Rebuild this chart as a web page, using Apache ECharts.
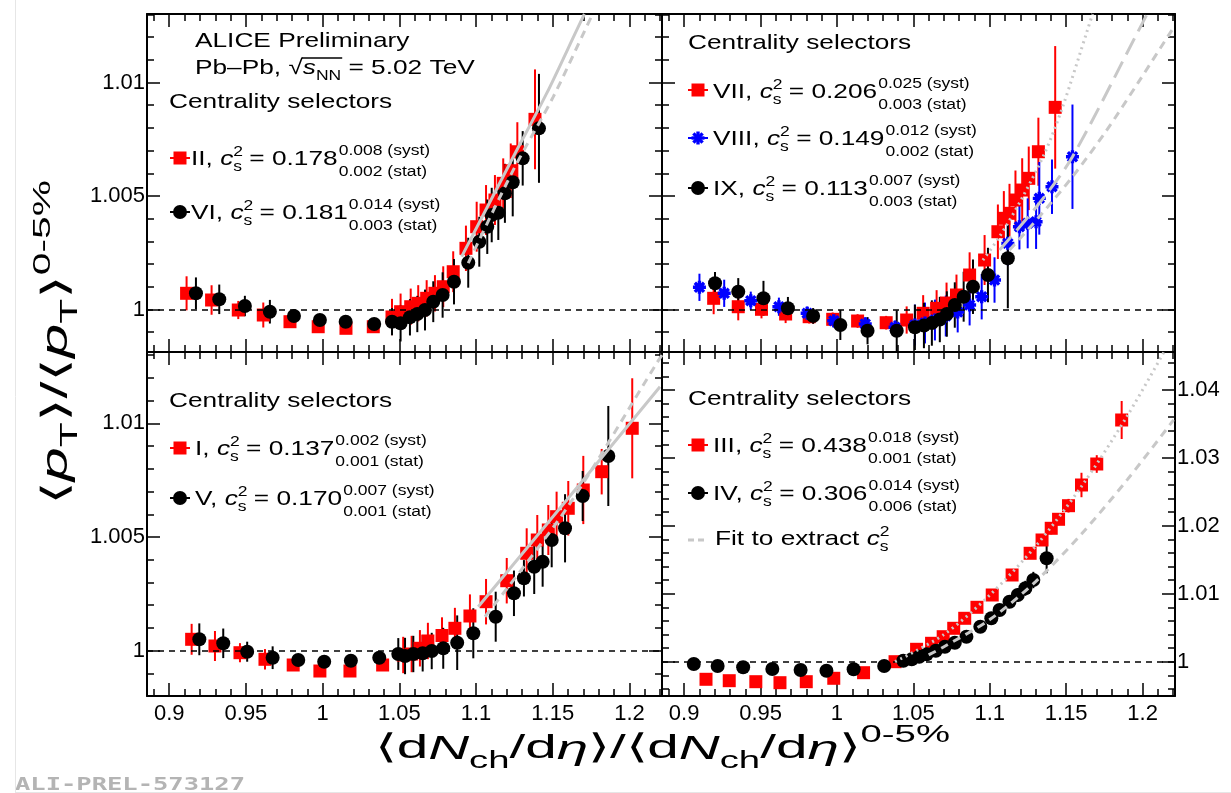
<!DOCTYPE html>
<html><head><meta charset="utf-8">
<script src="https://cdn.jsdelivr.net/npm/echarts@6/dist/echarts.min.js"></script>
<style>html,body{margin:0;padding:0;background:#fff;}#c{width:1231px;height:793px;}</style>
</head><body><div id="c"></div>
<script>
// ---------------- DATA ----------------
const xMajor = [0.9, 0.95, 1, 1.05, 1.1, 1.15, 1.2];
const xMajorLabels = ['0.9', '0.95', '1', '1.05', '1.1', '1.15', '1.2'];
const xMinor = [0.89,0.9,0.91,0.92,0.93,0.94,0.95,0.96,0.97,0.98,0.99,1,1.01,1.02,1.03,1.04,1.05,1.06,1.07,1.08,1.09,1.1,1.11,1.12,1.13,1.14,1.15,1.16,1.17,1.18,1.19,1.2,1.21,1.22];
const yMajorSmall = [1, 1.005, 1.01];
const yMajorSmallLabels = ['1', '1.005', '1.01'];
const yMinorSmall = [0.999,1,1.001,1.002,1.003,1.004,1.005,1.006,1.007,1.008,1.009,1.01,1.011,1.012,1.013];
const yMajorBig = [1, 1.01, 1.02, 1.03, 1.04];
const yMajorBigLabels = ['1', '1.01', '1.02', '1.03', '1.04'];
const yMinorBig = [0.996,0.998,1,1.002,1.004,1.006,1.008,1.01,1.012,1.014,1.016,1.018,1.02,1.022,1.024,1.026,1.028,1.03,1.032,1.034,1.036,1.038,1.04,1.042,1.044];

// Top-left: selector II (red), VI (black)
const tlII_x = [0.9113,0.9276,0.945,0.9613,0.9787,0.9971,1.0152,1.033,1.0452,1.0508,1.0574,1.0623,1.0678,1.0732,1.0786,1.0851,1.0934,1.1004,1.1065,1.1123,1.1177,1.1226,1.1269,1.1384];
const tlII_y = [1.000714,1.000419,0.999978,0.999758,0.999463,0.999242,0.999172,0.999242,0.99967,0.999903,1.000123,1.000273,1.000493,1.000714,1.001004,1.001665,1.002696,1.003648,1.004383,1.004824,1.005559,1.006115,1.006952,1.008379];
const tlII_e = [0.00075,0.00065,0.0004,0.00055,0.0002,0.0002,0.0002,0.0002,0.0008,0.0008,0.0008,0.0008,0.0008,0.0008,0.0009,0.0009,0.001,0.0011,0.0011,0.0011,0.0011,0.0012,0.0013,0.0022];
const tlVI_x = [0.9174,0.9326,0.9493,0.9656,0.9813,0.9982,1.015,1.0336,1.0452,1.0508,1.0569,1.0617,1.0667,1.0721,1.0782,1.0856,1.0949,1.1021,1.1073,1.1102,1.1145,1.1188,1.1239,1.1304,1.141];
const tlVI_y = [1.000714,1.000449,1.000154,0.999903,0.999714,0.999537,0.999463,0.999361,0.999463,0.999392,0.999656,0.999802,0.999978,1.000344,1.000639,1.001225,1.002062,1.002987,1.003648,1.004163,1.004264,1.005119,1.005604,1.006661,1.007982];
const tlVI_e = [0.0007,0.00065,0.00045,0.00052,0.0002,0.0002,0.0002,0.0002,0.0006,0.0008,0.0008,0.0008,0.0009,0.0009,0.001,0.001,0.0011,0.0011,0.0012,0.0012,0.0012,0.0013,0.0015,0.0012,0.0024];
const tlII_fit_x = [1.0906,1.1243,1.146,1.1656,1.1706];
const tlII_fit_y = [1.00233,1.00673,1.00952,1.01231,1.01302];
const tlVI_fit_x = [1.0949,1.1243,1.1503,1.171,1.176];
const tlVI_fit_y = [1.00204,1.00615,1.00937,1.01231,1.01302];

// Top-right: VII (red), VIII (blue), IX (black)
const trVII_x = [0.9193,0.9354,0.9506,0.9664,0.9818,0.9972,1.0135,1.0322,1.0456,1.0564,1.0652,1.0717,1.0782,1.0868,1.0966,1.1053,1.1092,1.1129,1.1168,1.1212,1.1255,1.1318,1.1428];
const trVII_y = [1.000493,1.000123,1.000009,0.999802,0.999683,0.999568,0.999493,0.999419,0.999537,0.999833,1.000053,1.000286,1.000639,1.00152,1.002181,1.003427,1.004018,1.004238,1.004824,1.005264,1.00578,1.006952,1.008907];
const trVII_e = [0.0007,0.0006,0.0004,0.0004,0.0003,0.0003,0.0003,0.0003,0.0006,0.0008,0.0008,0.0009,0.0009,0.001,0.0011,0.0012,0.0012,0.0013,0.0013,0.0014,0.0014,0.0015,0.0027];
const trVIII_x = [0.91,0.9262,0.9436,0.962,0.9805,0.9979,1.0185,1.038,1.051,1.0576,1.0641,1.0712,1.079,1.0868,1.0947,1.1031,1.1118,1.1194,1.1248,1.1303,1.1324,1.1407,1.1541];
const trVIII_y = [1.000978,1.000714,1.000388,1.000123,0.999833,0.999507,0.999361,0.999216,0.999317,0.999405,0.999537,0.999714,0.99989,1.000198,1.000564,1.0013,1.002916,1.003648,1.003797,1.003868,1.004899,1.00541,1.006731];
const trVIII_e = [0.0006,0.0006,0.0004,0.0004,0.0003,0.0003,0.0003,0.0003,0.0009,0.0009,0.0009,0.0009,0.0009,0.0009,0.001,0.001,0.001,0.001,0.0011,0.0012,0.0016,0.0012,0.0023];
const trIX_x = [0.9202,0.9354,0.9519,0.9679,0.9844,1.0022,1.02,1.0391,1.051,1.0569,1.0621,1.0673,1.0719,1.0771,1.0829,1.089,1.0988,1.1118];
const trIX_y = [1.001154,1.000784,1.000493,1.000053,0.999714,0.999317,0.999066,0.999066,0.999216,0.999295,0.999405,0.999559,0.999802,1.000198,1.000564,1.001004,1.00152,1.002256];
const trIX_e = [0.0005,0.0006,0.00077,0.0005,0.00035,0.00066,0.0006,0.0009,0.001,0.001,0.001,0.001,0.001,0.001,0.0011,0.0012,0.0012,0.0022];
const trVII_fit_x = [1.0955,1.1064,1.1216,1.1363,1.1476,1.1639,1.1673];
const trVII_fit_y = [1.00218,1.00321,1.00497,1.00695,1.00891,1.01231,1.01302];
const trVIII_fit_x = [1.1064,1.1324,1.1541,1.1975,1.203];
const trVIII_fit_y = [1.00262,1.00468,1.00673,1.01231,1.01302];
const trIX_fit_x = [1.1129,1.1324,1.1541,1.1758,1.1975,1.2192,1.2203];
const trIX_fit_y = [1.00262,1.00409,1.00585,1.00783,1.01004,1.01231,1.0124];

// Bottom-left: I (red), V (black)
const blI_x = [0.9146,0.9298,0.9461,0.9624,0.9808,0.9982,1.0178,1.0391,1.0525,1.058,1.0634,1.0686,1.0778,1.0862,1.096,1.1065,1.12,1.133,1.1399,1.1471,1.1525,1.1601,1.1699,1.1819,1.2018];
const blI_y = [1.000501,1.000207,0.999912,0.999622,0.999371,0.999107,0.999107,0.999371,0.999811,0.999855,1.000106,1.000427,1.000668,1.000985,1.001526,1.002155,1.003078,1.004283,1.004868,1.005308,1.005893,1.006262,1.007067,1.007872,1.00978];
const blI_e = [0.00068,0.00066,0.00042,0.00045,0.0002,0.0002,0.0002,0.0002,0.0008,0.0008,0.0008,0.0008,0.0008,0.0009,0.00095,0.001,0.001,0.0011,0.0011,0.0011,0.0011,0.0012,0.0015,0.001,0.0022];
const blV_x = [0.9196,0.9352,0.9508,0.9674,0.9841,1.001,1.0184,1.0369,1.0493,1.0537,1.0591,1.0652,1.0711,1.0786,1.0877,1.0982,1.1128,1.1247,1.1312,1.1379,1.1434,1.1493,1.158,1.1695,1.1862];
const blV_y = [1.000501,1.000325,0.999956,0.999692,0.999591,0.999516,0.99956,0.999692,0.999855,0.999767,0.999855,0.999886,0.999987,1.000106,1.000352,1.000765,1.001495,1.002524,1.003184,1.003694,1.003914,1.004868,1.005383,1.006803,1.008562];
const blV_e = [0.0007,0.00065,0.00044,0.0005,0.0002,0.0002,0.0002,0.0002,0.0007,0.0008,0.0008,0.0008,0.0008,0.0009,0.0012,0.0011,0.0011,0.001,0.0008,0.0012,0.0011,0.0012,0.0015,0.0011,0.0022];
const blI_fit_x = [1.1014,1.1591,1.2199];
const blI_fit_y = [1.001935,1.006627,1.01161];
const blV_fit_x = [1.1058,1.1591,1.2177,1.2212];
const blV_fit_y = [1.001495,1.006262,1.012638,1.013];

// Bottom-right: III (red), IV (black)
const brIII_x = [0.9143,0.9295,0.9469,0.9627,0.9799,0.9979,1.0174,1.038,1.0521,1.0619,1.0695,1.0764,1.0836,1.0916,1.1016,1.1146,1.1264,1.1342,1.1402,1.145,1.1515,1.16,1.17,1.1863];
const brIII_y = [0.997409,0.997203,0.997056,0.996909,0.997056,0.997556,0.998381,1.0,1.001825,1.002709,1.00368,1.004917,1.006389,1.008008,1.009819,1.012763,1.015958,1.017916,1.019638,1.020963,1.022965,1.026012,1.029104,1.035581];
const brIII_e = [0.0005,0.0005,0.0005,0.0005,0.0005,0.0005,0.0005,0.0005,0.0006,0.0006,0.0006,0.0006,0.0007,0.0007,0.0008,0.0008,0.0008,0.0008,0.0009,0.0009,0.001,0.0018,0.0013,0.0028];
const brIV_x = [0.9063,0.9219,0.9386,0.9577,0.9762,0.9931,1.0109,1.0309,1.0434,1.0489,1.0538,1.0587,1.0647,1.0706,1.0771,1.0847,1.0938,1.101,1.1064,1.1129,1.1183,1.1233,1.1285,1.1372];
const brIV_y = [0.999661,0.999367,0.999176,0.998925,0.998778,0.998675,0.998881,0.999367,1.000147,1.000353,1.000736,1.001089,1.001619,1.002208,1.002797,1.00368,1.005152,1.006389,1.007611,1.008833,1.009819,1.010805,1.012027,1.015222];
const brIV_e = [0.0004,0.0004,0.0004,0.0004,0.0004,0.0004,0.0004,0.0004,0.0005,0.0005,0.0005,0.0005,0.0005,0.0005,0.0006,0.0006,0.0006,0.0007,0.0008,0.0009,0.001,0.0011,0.0012,0.0022];
const brIII_fit_x = [1.038,1.07,1.10,1.13,1.16,1.19,1.22];
const brIII_fit_y = [1.0,1.004,1.0098,1.017,1.0258,1.0362,1.048];
const brIV_fit_x = [1.06,1.07,1.10,1.13,1.16,1.19,1.2203];
const brIV_fit_y = [1.001,1.0022,1.0062,1.0118,1.0188,1.0268,1.0356];

// ---------------- LAYOUT ----------------
const FONT = '"Liberation Sans", Arial, Helvetica, sans-serif';
const SX = 1.25;
const RED = '#ff0000', BLUE = '#0000ff', BLK = '#000000', GREY = '#c8c8c8';
const XMIN = 0.8855, XMAX = 1.2212;
const grids = [
  {left: 147, top: 14, width: 515, height: 338, ymin: 0.998128, ymax: 1.01302, yMaj: yMajorSmall, yLab: yMajorSmallLabels, yMin: yMinorSmall, xl: false, yl: 'left'},
  {left: 662, top: 14, width: 513, height: 338, ymin: 0.998128, ymax: 1.01302, yMaj: yMajorSmall, yLab: yMajorSmallLabels, yMin: yMinorSmall, xl: false, yl: null},
  {left: 147, top: 352, width: 515, height: 344, ymin: 0.998008, ymax: 1.013135, yMaj: yMajorSmall, yLab: yMajorSmallLabels, yMin: yMinorSmall, xl: true, yl: 'left'},
  {left: 662, top: 352, width: 513, height: 344, ymin: 0.99495, ymax: 1.04559, yMaj: yMajorBig, yLab: yMajorBigLabels, yMin: yMinorBig, xl: true, yl: 'right'}
];

const xAxes = [], yAxes = [], mainX = [], mainY = [];
function lab(vals, labels) {
  return function (v) {
    for (let i = 0; i < vals.length; i++) if (Math.abs(vals[i] - v) < 1e-7) return labels[i];
    return '';
  };
}
grids.forEach((g, gi) => {
  const mk = (pos, ticks, len, line, labels) => ({
    type: 'value', gridIndex: gi, position: pos, min: XMIN, max: XMAX,
    axisLine: {show: line, onZero: false, lineStyle: {color: '#000', width: 2}},
    axisTick: {show: true, inside: true, length: len, customValues: ticks, lineStyle: {color: '#000', width: 1.5}},
    axisLabel: labels ? {show: true, customValues: xMajor, formatter: lab(xMajor, xMajorLabels), color: '#000', fontSize: 22, fontFamily: FONT, margin: 7, hideOverlap: false} : {show: false},
    splitLine: {show: false}
  });
  mainX.push(xAxes.length);
  xAxes.push(mk('bottom', xMajor, 13, true, g.xl));
  xAxes.push(mk('bottom', xMinor, 7, false, false));
  xAxes.push(mk('top', xMajor, 13, true, false));
  xAxes.push(mk('top', xMinor, 7, false, false));
  const mky = (pos, ticks, len, line, labels) => ({
    type: 'value', gridIndex: gi, position: pos, min: g.ymin, max: g.ymax,
    axisLine: {show: line, onZero: false, lineStyle: {color: '#000', width: 2}},
    axisTick: {show: true, inside: true, length: len, customValues: ticks, lineStyle: {color: '#000', width: 1.5}},
    axisLabel: labels ? {show: true, customValues: g.yMaj, formatter: lab(g.yMaj, g.yLab), color: '#000', fontSize: 22, fontFamily: FONT, margin: 2, hideOverlap: false} : {show: false},
    splitLine: {show: false}
  });
  mainY.push(yAxes.length);
  yAxes.push(mky('left', g.yMaj, 13, true, g.yl === 'left'));
  yAxes.push(mky('left', g.yMin, 7, false, false));
  yAxes.push(mky('right', g.yMaj, 13, true, g.yl === 'right'));
  yAxes.push(mky('right', g.yMin, 7, false, false));
});

const series = [];
function zip3(xs, ys, es) { return xs.map((x, i) => [x, ys[i], es[i]]); }
function zip2(xs, ys) { return xs.map((x, i) => [x, ys[i]]); }
const STAR = 'path://M-5,-1.3L5,-1.3L5,1.3L-5,1.3Z M-2.617,-4.455L4.455,2.617L2.617,4.455L-4.455,-2.617Z M4.455,-2.617L-2.617,4.455L-4.455,2.617L2.617,-4.455Z M1.3,-5L1.3,5L-1.3,5L-1.3,-5Z';
function addData(gi, xs, ys, es, color, symbol, size) {
  series.push({
    type: 'custom', xAxisIndex: mainX[gi], yAxisIndex: mainY[gi], data: zip3(xs, ys, es), silent: true,
    encode: {x: 0, y: 1},
    renderItem: function (params, api) {
      const x = api.value(0), y = api.value(1), e = api.value(2);
      const a = api.coord([x, y - e]), b = api.coord([x, y + e]);
      return {type: 'line', shape: {x1: a[0], y1: a[1], x2: b[0], y2: b[1]}, style: {stroke: color, lineWidth: 2}};
    }
  });
  series.push({
    type: 'scatter', xAxisIndex: mainX[gi], yAxisIndex: mainY[gi], data: zip2(xs, ys), symbol: symbol, symbolSize: size,
    itemStyle: {color: color, opacity: 1}, silent: true
  });
}
function addFit(gi, xs, ys, type) {
  series.push({
    type: 'line', xAxisIndex: mainX[gi], yAxisIndex: mainY[gi], data: zip2(xs, ys), showSymbol: false, symbol: 'none',
    smooth: 0.3, z: 5, silent: true, clip: true,
    lineStyle: {color: GREY, width: 3, type: type}
  });
}
function addOne(gi) {
  series.push({
    type: 'line', xAxisIndex: mainX[gi], yAxisIndex: mainY[gi], data: [], silent: true,
    markLine: {silent: true, symbol: 'none', label: {show: false}, lineStyle: {color: '#000', width: 1.5, type: [6, 5]}, data: [{yAxis: 1}]}
  });
}
[0, 1, 2, 3].forEach(addOne);
addData(0, tlII_x, tlII_y, tlII_e, RED, 'rect', 13);
addData(0, tlVI_x, tlVI_y, tlVI_e, BLK, 'circle', 14);
addFit(0, tlII_fit_x, tlII_fit_y, 'solid');
addFit(0, tlVI_fit_x, tlVI_fit_y, [8, 6]);
addData(1, trVII_x, trVII_y, trVII_e, RED, 'rect', 13);
addData(1, trVIII_x, trVIII_y, trVIII_e, BLUE, STAR, 13);
addData(1, trIX_x, trIX_y, trIX_e, BLK, 'circle', 14);
addFit(1, trVII_fit_x, trVII_fit_y, [2, 4]);
addFit(1, trVIII_fit_x, trVIII_fit_y, [18, 8]);
addFit(1, trIX_fit_x, trIX_fit_y, [8, 6]);
addData(2, blI_x, blI_y, blI_e, RED, 'rect', 13);
addData(2, blV_x, blV_y, blV_e, BLK, 'circle', 14);
addFit(2, blI_fit_x, blI_fit_y, 'solid');
addFit(2, blV_fit_x, blV_fit_y, [8, 6]);
addData(3, brIII_x, brIII_y, brIII_e, RED, 'rect', 13);
addData(3, brIV_x, brIV_y, brIV_e, BLK, 'circle', 14);
addFit(3, brIII_fit_x, brIII_fit_y, [2, 4]);
addFit(3, brIV_fit_x, brIV_fit_y, [8, 6]);

// ---------------- TEXT HELPERS ----------------
const mctx = document.createElement('canvas').getContext('2d');
function fnt(size, it) { return (it ? 'italic ' : '') + size + 'px ' + FONT; }
function tw(t, size, it) { mctx.font = fnt(size, it); return mctx.measureText(t).width; }
const G = [];
// parts: [text, size, dy, italic, noAdvance]
function run(x, base, parts, col, sx, target) {
  sx = sx || SX; target = target || G;
  let cx = x;
  parts.forEach(p => {
    const t = p[0], size = p[1], dy = p[2] || 0, it = !!p[3], noAdv = !!p[4];
    target.push({type: 'text', x: cx, y: base + dy - 0.35 * size, scaleX: sx, silent: true, z: 100,
      style: {text: t, x: 0, y: 0, fill: col || '#000', font: fnt(size, it), textAlign: 'left', align: 'left', textVerticalAlign: 'middle', verticalAlign: 'middle'}});
    if (!noAdv) cx += tw(t, size, it) * sx;
  });
  return cx;
}
function natural(parts) { return parts.reduce((s, p) => s + (p[4] ? 0 : tw(p[0], p[1], !!p[3])), 0); }
const FS = 21, SS = 14;
const STAR_POLYS = [
  [[-5,-1.3],[5,-1.3],[5,1.3],[-5,1.3]],
  [[-2.617,-4.455],[4.455,2.617],[2.617,4.455],[-4.455,-2.617]],
  [[4.455,-2.617],[-2.617,4.455],[-4.455,2.617],[2.617,-4.455]],
  [[1.3,-5],[1.3,5],[-1.3,5],[-1.3,-5]]
];
function legendRow(mx, my, x, base, name, val, sup, sub, kind, color) {
  G.push({type: 'line', silent: true, z: 100, shape: {x1: mx - 10, y1: my, x2: mx + 10, y2: my}, style: {stroke: color, lineWidth: 2}});
  if (kind === 'rect') {
    G.push({type: 'rect', silent: true, z: 100, shape: {x: mx - 6.5, y: my - 6.5, width: 13, height: 13}, style: {fill: color}});
  } else if (kind === 'circle') {
    G.push({type: 'circle', silent: true, z: 100, shape: {cx: mx, cy: my, r: 7}, style: {fill: color}});
  } else if (kind === 'star') {
    STAR_POLYS.forEach(pl => G.push({type: 'polygon', silent: true, z: 101, shape: {points: pl.map(p => [mx + p[0] * 1.3, my + p[1] * 1.3])}, style: {fill: color}}));
  }
  let cx = run(x, base, [[name + ', ', FS], ['c', FS, 0, true], ['2', SS, -10, false, true], ['s', SS, 5], [' = ' + val, FS]]);
  run(cx + 1, base, [[sup, SS, -11]]);
  run(cx + 1, base, [[sub, SS, 10]]);
}
// Top-left texts
run(195, 49, [['ALICE Preliminary', FS]]);
{
  let cx = run(195, 76, [['Pb\u2013Pb, ', FS]]);
  cx = run(cx, 76, [['\u221A', FS]]);
  const ob = cx;
  cx = run(cx, 76, [['s', FS, 0, true], ['NN', SS, 5]]);
  G.push({type: 'line', silent: true, z: 100, shape: {x1: ob - 1, y1: 58, x2: cx + 1, y2: 58}, style: {stroke: '#000', lineWidth: 1.3}});
  run(cx, 76, [[' = 5.02 TeV', FS]]);
}
run(169, 110, [['Centrality selectors', FS]]);
legendRow(180, 158, 191, 167, 'II', '0.178', '0.008 (syst)', '0.002 (stat)', 'rect', RED);
legendRow(180, 212, 191, 221, 'VI', '0.181', '0.014 (syst)', '0.003 (stat)', 'circle', BLK);
// Top-right
run(688, 51, [['Centrality selectors', FS]]);
legendRow(698, 90, 713, 100, 'VII', '0.206', '0.025 (syst)', '0.003 (stat)', 'rect', RED);
legendRow(698, 138, 713, 147, 'VIII', '0.149', '0.012 (syst)', '0.002 (stat)', 'star', BLUE);
legendRow(698, 188, 713, 197, 'IX', '0.113', '0.007 (syst)', '0.003 (stat)', 'circle', BLK);
// Bottom-left
run(169, 409, [['Centrality selectors', FS]]);
legendRow(180, 448, 195, 457, 'I', '0.137', '0.002 (syst)', '0.001 (stat)', 'rect', RED);
legendRow(180, 498, 195, 507, 'V', '0.170', '0.007 (syst)', '0.001 (stat)', 'circle', BLK);
// Bottom-right
run(688, 407, [['Centrality selectors', FS]]);
legendRow(698, 445, 713, 454, 'III', '0.438', '0.018 (syst)', '0.001 (stat)', 'rect', RED);
legendRow(698, 493, 713, 502, 'IV', '0.306', '0.014 (syst)', '0.006 (stat)', 'circle', BLK);
G.push({type: 'line', silent: true, z: 100, shape: {x1: 688, y1: 540, x2: 708, y2: 540}, style: {stroke: GREY, lineWidth: 3, lineDash: [6, 4]}});
run(715, 547, [['Fit to extract ', FS], ['c', FS, 0, true], ['2', SS, -10, false, true], ['s', SS, 5]]);

// Axis titles (stretched to span the same extent as in the reference)
{
  const T = 34, t = 23;
  const xp = [['\u27E8d', T], ['N', T, 0, true], ['ch', t, 9], ['/d', T], ['\u03B7', T, 0, true], ['\u27E9/\u27E8d', T], ['N', T, 0, true], ['ch', t, 9], ['/d', T], ['\u03B7', T, 0, true], ['\u27E9', T], ['0-5%', t, -17]];
  run(375, 761, xp, '#000', 575 / natural(xp));
  const Y = 36, y = 24;
  const yp = [['\u27E8', Y], ['p', Y, 0, true], ['T', y, 9], ['\u27E9/\u27E8', Y], ['p', Y, 0, true], ['T', y, 9], ['\u27E9', Y], ['0-5%', y, -18]];
  const kids = [];
  run(0, 0, yp, '#000', 325 / natural(yp), kids);
  G.push({type: 'group', x: 70, y: 505, rotation: Math.PI / 2, children: kids});
}
// Watermark and frame
{
  const wf = 'bold 18px "DejaVu Sans Mono", "Liberation Mono", monospace';
  mctx.font = wf;
  const ww = mctx.measureText('ALI-PREL-573127').width;
  G.push({type: 'text', x: 15, y: 785, scaleX: 230 / ww, silent: true, style: {text: 'ALI-PREL-573127', x: 0, y: 0, font: wf, fill: '#b4b4b4', textVerticalAlign: 'middle', verticalAlign: 'middle'}});
}
G.push({type: 'line', silent: true, shape: {x1: 15.5, y1: 0, x2: 15.5, y2: 793}, style: {stroke: '#e6e6e6', lineWidth: 1}});
G.push({type: 'line', silent: true, shape: {x1: 15, y1: 792.5, x2: 1231, y2: 792.5}, style: {stroke: '#e6e6e6', lineWidth: 1}});

const chart = echarts.init(document.getElementById('c'), null, {renderer: 'canvas'});
chart.setOption({
  animation: false,
  backgroundColor: '#fff',
  grid: grids.map(g => ({left: g.left, top: g.top, width: g.width, height: g.height, containLabel: false})),
  xAxis: xAxes,
  yAxis: yAxes,
  series: series,
  graphic: {elements: G}
});
</script>
</body></html>
